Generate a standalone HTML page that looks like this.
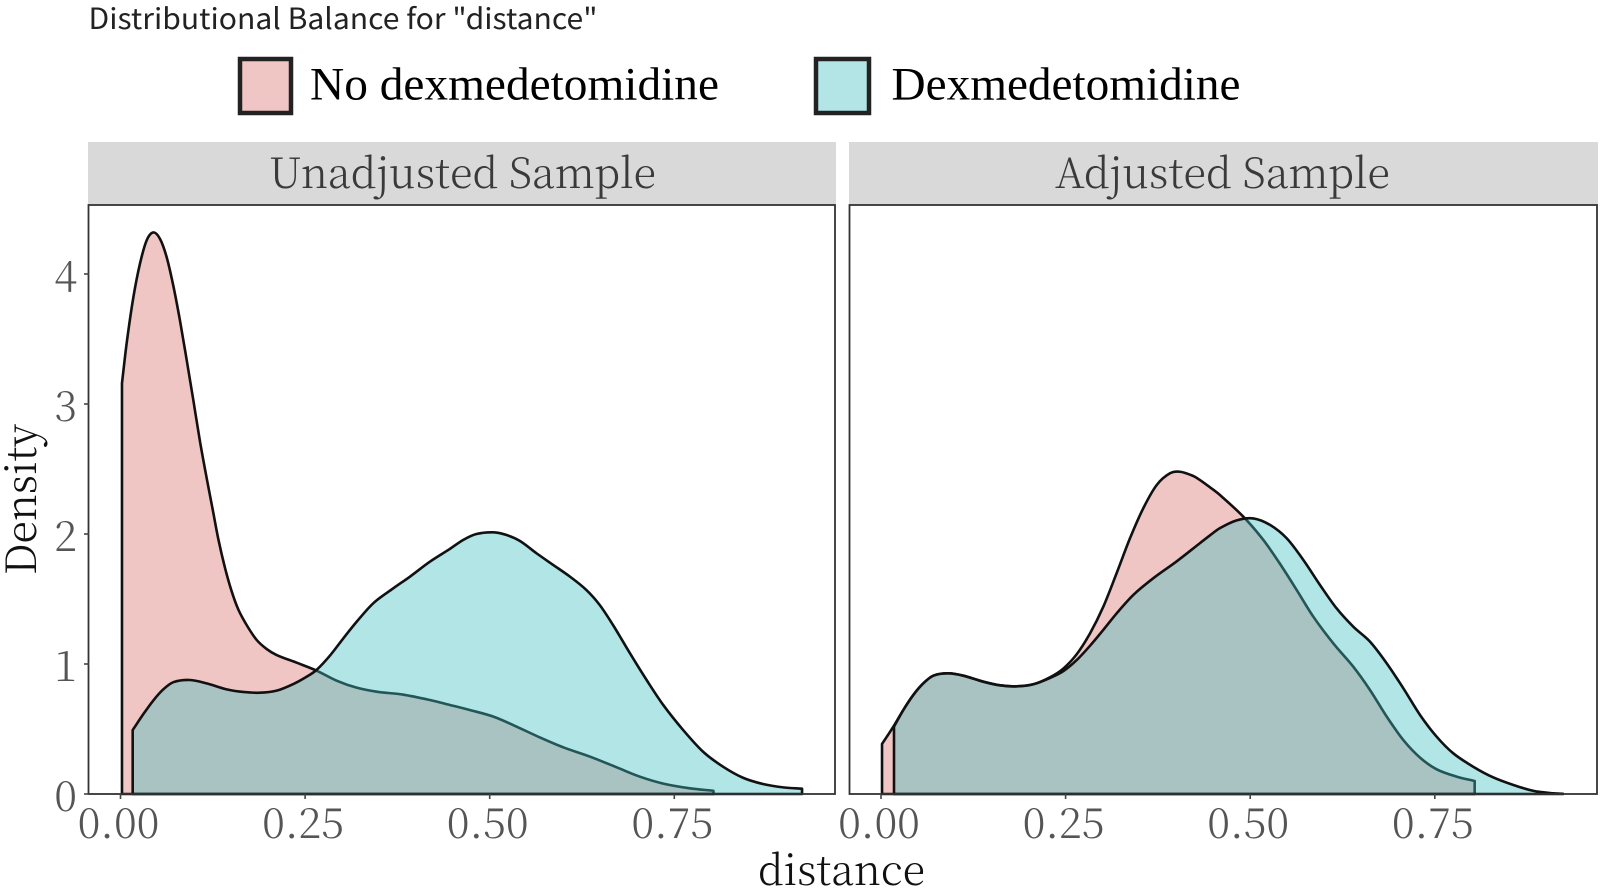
<!DOCTYPE html>
<html lang="en">
<head>
<meta charset="utf-8">
<title>Distributional Balance for "distance"</title>
<style>
html,body{margin:0;padding:0;background:#fff;width:1600px;height:890px;overflow:hidden}
svg{display:block}
.serif{font-family:"Noto Serif CJK SC","Liberation Serif",serif}
.tick-label{font-size:42px;fill:#555;font-weight:300}
</style>
</head>
<body>
<svg id="chart" xmlns="http://www.w3.org/2000/svg" width="1600" height="890" viewBox="0 0 1600 890">
  <text x="88.5" y="29" textLength="509" lengthAdjust="spacingAndGlyphs" font-family="'Noto Sans CJK SC','Liberation Sans',sans-serif" font-size="29" fill="#222">Distributional Balance for "distance"</text>

  <g>
    <rect x="240" y="59" width="51" height="54" fill="#f0c6c4" stroke="#222" stroke-width="4.5"/>
    <text x="310" y="99.5" textLength="409" lengthAdjust="spacingAndGlyphs" font-family="'Liberation Serif',serif" font-size="47" fill="#000">No dexmedetomidine</text>
    <rect x="816" y="59" width="53" height="54" fill="#b3e5e6" stroke="#222" stroke-width="4.5"/>
    <text x="891.5" y="99.5" textLength="349" lengthAdjust="spacingAndGlyphs" font-family="'Liberation Serif',serif" font-size="47" fill="#000">Dexmedetomidine</text>
  </g>

  <g>
    <rect x="88" y="142" width="748" height="63" fill="#d9d9d9"/>
    <text class="serif" x="269" y="188" textLength="387" lengthAdjust="spacingAndGlyphs" font-size="42" font-weight="300" fill="#3a3a3a">Unadjusted Sample</text>
  </g>
  <g>
    <rect x="849" y="142" width="749" height="63" fill="#d9d9d9"/>
    <text class="serif" x="1055" y="188" textLength="335" lengthAdjust="spacingAndGlyphs" font-size="42" font-weight="300" fill="#3a3a3a">Adjusted Sample</text>
  </g>

  <g id="panel-left"></g>
  <g id="panel-right"></g>
  <g id="y-axis"></g>
  <g id="x-axis-left"></g>
  <g id="x-axis-right"></g>

  <text class="serif" x="758" y="885" textLength="167" lengthAdjust="spacingAndGlyphs" font-size="42" fill="#111" font-weight="300">distance</text>
  <text class="serif" transform="translate(36,575) rotate(-90)" x="0" y="0" textLength="151" lengthAdjust="spacingAndGlyphs" font-size="42" fill="#111" font-weight="300">Density</text>
</svg>

<script>
const yTicks = [0, 1, 2, 3, 4];
const xTicks = [0, 0.25, 0.5, 0.75];
const xTickLabels = ["0.00", "0.25", "0.50", "0.75"];

const unadjNoDexX = [0.002,0.0084,0.0174,0.0264,0.0355,0.0445,0.0535,0.0625,0.0715,0.0806,0.0896,0.0986,0.1077,0.1167,0.1248,0.1325,0.1415,0.1505,0.1595,0.1708,0.1844,0.198,0.2115,0.2386,0.2656,0.2927,0.3198,0.3469,0.383,0.419,0.446,0.473,0.505,0.5365,0.568,0.5996,0.636,0.672,0.7035,0.735,0.771,0.803];
const unadjNoDexY = [3.16,3.47,3.82,4.08,4.26,4.32,4.27,4.13,3.91,3.64,3.34,3.03,2.71,2.43,2.19,1.96,1.74,1.56,1.42,1.30,1.185,1.115,1.069,1.01,0.949,0.872,0.818,0.787,0.764,0.723,0.685,0.646,0.595,0.518,0.435,0.359,0.287,0.205,0.133,0.08,0.044,0.025];

const unadjDexX = [0.0165,0.031,0.0445,0.058,0.0715,0.094,0.1167,0.1438,0.166,0.189,0.2115,0.234,0.252,0.2656,0.2837,0.3017,0.3198,0.3423,0.3694,0.392,0.419,0.446,0.464,0.482,0.505,0.523,0.541,0.5636,0.586,0.6087,0.631,0.649,0.667,0.69,0.7125,0.735,0.762,0.789,0.816,0.843,0.87,0.8975,0.923];
const unadjDexY = [0.492,0.615,0.72,0.805,0.86,0.877,0.851,0.805,0.785,0.779,0.795,0.846,0.902,0.955,1.065,1.197,1.325,1.467,1.582,1.672,1.787,1.885,1.954,2.0,2.013,1.992,1.946,1.851,1.762,1.672,1.569,1.454,1.30,1.082,0.877,0.685,0.492,0.325,0.21,0.125,0.077,0.051,0.041];

const adjNoDexX = [0.0014,0.0167,0.0302,0.0438,0.0573,0.0708,0.0912,0.1115,0.1385,0.1612,0.1838,0.2063,0.2289,0.2469,0.265,0.283,0.301,0.3192,0.3372,0.3552,0.3734,0.3914,0.405,0.423,0.432,0.4456,0.459,0.4907,0.5178,0.5404,0.563,0.5855,0.6125,0.6396,0.6622,0.6849,0.7074,0.73,0.7525,0.78,0.804];
const adjNoDexY = [0.385,0.518,0.646,0.762,0.851,0.91,0.928,0.91,0.864,0.836,0.828,0.844,0.898,0.965,1.075,1.235,1.44,1.70,1.967,2.198,2.377,2.467,2.479,2.446,2.415,2.359,2.3,2.133,1.954,1.77,1.569,1.364,1.159,0.979,0.8,0.595,0.415,0.28,0.19,0.133,0.1];

const adjDexX = [0.0176,0.0302,0.0438,0.0573,0.0708,0.0912,0.1115,0.1385,0.1612,0.1838,0.2063,0.2289,0.2469,0.265,0.283,0.301,0.3192,0.3417,0.3688,0.4005,0.432,0.4456,0.459,0.4817,0.5042,0.5268,0.5494,0.572,0.5945,0.617,0.6396,0.6622,0.6849,0.7074,0.73,0.7525,0.775,0.802,0.829,0.8565,0.883,0.911,0.9237];
const adjDexY = [0.518,0.646,0.762,0.851,0.91,0.928,0.91,0.864,0.836,0.828,0.844,0.893,0.945,1.03,1.14,1.262,1.39,1.531,1.66,1.79,1.93,1.99,2.045,2.105,2.12,2.07,1.967,1.8,1.608,1.428,1.287,1.172,1.005,0.813,0.608,0.441,0.313,0.21,0.128,0.069,0.025,0.005,0.002];

const SVG_NS = "http://www.w3.org/2000/svg";
const plotTop = 205, plotBottom = 794, pxPerDensity = 130, pxPerDistance = 738.4;
const leftPanel = { id: "panel-left", axisId: "x-axis-left", left: 88.5, right: 835, zero: 120.5 };
const rightPanel = { id: "panel-right", axisId: "x-axis-right", left: 849.5, right: 1597, zero: 881 };

function yScale(d) { return plotBottom - d * pxPerDensity; }
function xScale(panel, v) { return panel.zero + v * pxPerDistance; }

function make(tag, attrs, parent) {
  const node = document.createElementNS(SVG_NS, tag);
  for (const key in attrs) node.setAttribute(key, attrs[key]);
  parent.appendChild(node);
  return node;
}

function curvePath(panel, xs, ys) {
  const pts = xs.map((v, i) => [xScale(panel, v), yScale(ys[i])]);
  const n = pts.length;
  const slopes = pts.map((p, i) => {
    const a = pts[Math.max(i - 1, 0)], b = pts[Math.min(i + 1, n - 1)];
    return (b[1] - a[1]) / (b[0] - a[0]);
  });
  let d = "M" + pts[0][0].toFixed(2) + " " + plotBottom + "L" + pts[0][0].toFixed(2) + " " + pts[0][1].toFixed(2);
  for (let i = 0; i < n - 1; i++) {
    const p1 = pts[i], p2 = pts[i + 1], dx = (p2[0] - p1[0]) / 3;
    d += "C" + (p1[0] + dx).toFixed(2) + " " + (p1[1] + slopes[i] * dx).toFixed(2) + " " + (p2[0] - dx).toFixed(2) + " " + (p2[1] - slopes[i + 1] * dx).toFixed(2) + " " + p2[0].toFixed(2) + " " + p2[1].toFixed(2);
  }
  d += "L" + pts[n - 1][0].toFixed(2) + " " + plotBottom + "Z";
  return d;
}

function drawPanel(panel, noDexX, noDexY, dexX, dexY) {
  const group = document.getElementById(panel.id);
  const bg = make("rect", { x: panel.left, y: plotTop, width: panel.right - panel.left, height: plotBottom - plotTop, fill: "#fff" }, group);
  
  
  const pink = make("path", { d: curvePath(panel, noDexX, noDexY), fill: "rgb(217,112,107)", "fill-opacity": 0.4, stroke: "#111", "stroke-width": 2.6, "stroke-linejoin": "round" }, group);
  
  
  const teal = make("path", { d: curvePath(panel, dexX, dexY), fill: "rgb(60,190,192)", "fill-opacity": 0.4, stroke: "#111", "stroke-width": 2.6, "stroke-linejoin": "round" }, group);
  
  
  const border = make("rect", { x: panel.left, y: plotTop, width: panel.right - panel.left, height: plotBottom - plotTop, fill: "none", stroke: "#333", "stroke-width": 1.8 }, group);
  
  

  const axis = document.getElementById(panel.axisId);
  xTicks.forEach((v, i) => {
    const px = xScale(panel, v);
    const tick = make("line", { x1: px, x2: px, y1: plotBottom, y2: plotBottom + 5, stroke: "#444", "stroke-width": 1.6 }, axis);
    
    
    const label = make("text", { x: px - 2, y: 838, "text-anchor": "middle", class: "serif tick-label" }, axis);
    
    
    label.textContent = xTickLabels[i];
  });
}

function drawYAxis() {
  const axis = document.getElementById("y-axis");
  yTicks.forEach((v) => {
    const py = yScale(v);
    const tick = make("line", { x1: 84, x2: 89, y1: py, y2: py, stroke: "#444", "stroke-width": 1.6 }, axis);
    
    
    const label = make("text", { x: 77, y: py + 17, "text-anchor": "end", class: "serif tick-label" }, axis);
    
    
    label.textContent = String(v);
  });
}

drawPanel(leftPanel, unadjNoDexX, unadjNoDexY, unadjDexX, unadjDexY);
drawPanel(rightPanel, adjNoDexX, adjNoDexY, adjDexX, adjDexY);
drawYAxis();
</script>
</body>
</html>
